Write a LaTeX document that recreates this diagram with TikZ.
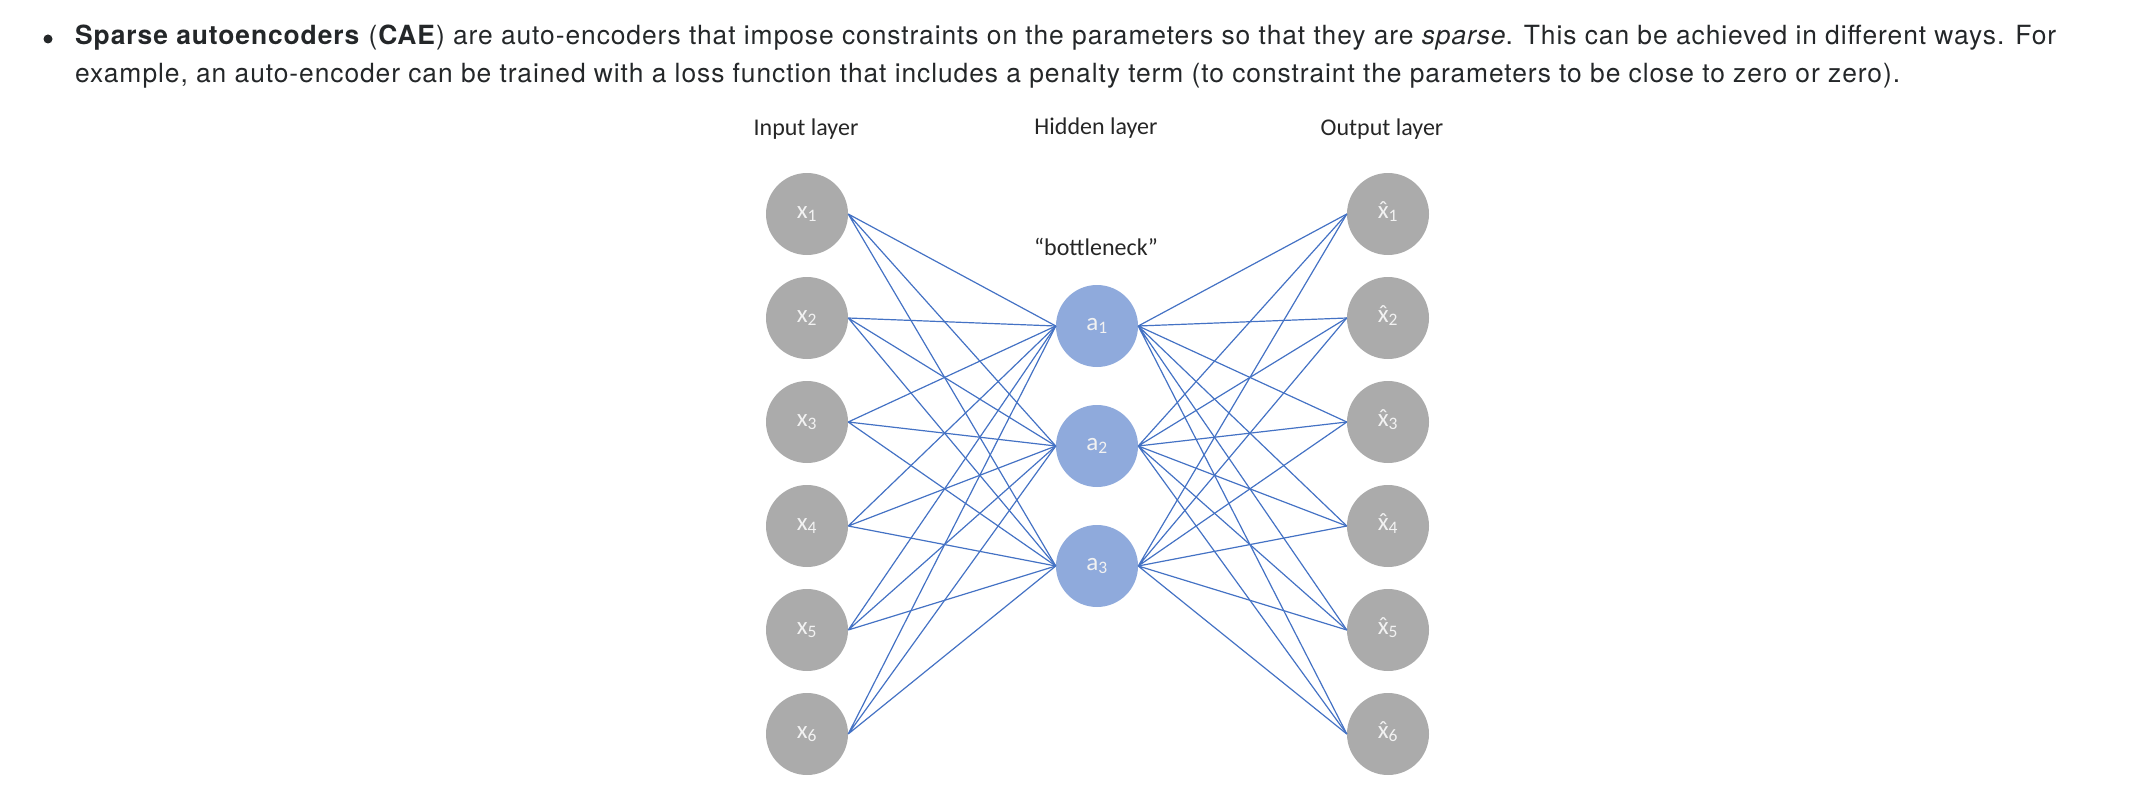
\documentclass[tikz,border=0pt]{standalone}
\usepackage{fontspec}
\setmainfont[LetterSpace=3.5]{TeX Gyre Heros}
\newfontfamily\calibri{Carlito}

\definecolor{nodegray}{HTML}{ABABAB}
\definecolor{hidblue}{HTML}{8FAADC}
\definecolor{wireblue}{HTML}{4472C4}
\definecolor{inktext}{HTML}{242729}

\newcommand{\xhat}{\ooalign{x\cr\hidewidth\char"02C6\hidewidth\cr}}

\tikzset{
  unit/.style={circle, fill=nodegray, minimum size=82pt, inner sep=0pt,
    text=white!95!black, font=\calibri\fontsize{25}{25}\selectfont},
  hidunit/.style={unit, fill=hidblue},
  wire/.style={draw=wireblue, line width=1.2pt},
  layertitle/.style={anchor=base, inner sep=0pt, text=black!85,
    font=\calibri\fontsize{24}{24}\selectfont},
  paraline/.style={anchor=base west, inner sep=0pt, text=inktext,
    font=\fontsize{26.4}{30}\selectfont},
}

\begin{document}
\begin{tikzpicture}[x=1pt, y=-1pt]
                \useasboundingbox (0, 0) rectangle (2142, 800);
                % text above the picture
                \node[circle, fill=inktext, inner sep=0pt, minimum size=9pt] (bullet) at (48, 39) {};
                \node[paraline] (line1) at (75, 45) {\textbf{Sparse autoencoders} (\textbf{CAE}) are auto-encoders that impose constraints on the parameters so that they are \textit{sparse}. This can be achieved in different ways. For};
                \node[paraline] (line2) at (75, 82) {example, an auto-encoder can be trained with a loss function that includes a penalty term (to constraint the parameters to be close to zero or zero).};
                % layer titles
                \node[layertitle] (intitle) at (806, 135) {Input layer};
                \node[layertitle] (hidtitle) at (1096, 134) {Hidden layer};
                \node[layertitle] (outtitle) at (1382, 135) {Output layer};
                \node[layertitle] (neck) at (1096, 255) {“bottleneck”};
                % input layer
                \node[unit] (x1) at (807, 214) {x\textsubscript{1}};
                \node[unit] (x2) at (807, 318) {x\textsubscript{2}};
                \node[unit] (x3) at (807, 422) {x\textsubscript{3}};
                \node[unit] (x4) at (807, 526) {x\textsubscript{4}};
                \node[unit] (x5) at (807, 630) {x\textsubscript{5}};
                \node[unit] (x6) at (807, 734) {x\textsubscript{6}};
                % hidden layer
                \node[hidunit] (a1) at (1097, 326) {a\textsubscript{1}};
                \node[hidunit] (a2) at (1097, 446) {a\textsubscript{2}};
                \node[hidunit] (a3) at (1097, 566) {a\textsubscript{3}};
                % output layer
                \node[unit] (y1) at (1388, 214) {\xhat\textsubscript{1}};
                \node[unit] (y2) at (1388, 318) {\xhat\textsubscript{2}};
                \node[unit] (y3) at (1388, 422) {\xhat\textsubscript{3}};
                \node[unit] (y4) at (1388, 526) {\xhat\textsubscript{4}};
                \node[unit] (y5) at (1388, 630) {\xhat\textsubscript{5}};
                \node[unit] (y6) at (1388, 734) {\xhat\textsubscript{6}};
                % encoder weights
                \draw[wire] (x1.east) -- (a1.west) (x1.east) -- (a2.west) (x1.east) -- (a3.west);
                \draw[wire] (x2.east) -- (a1.west) (x2.east) -- (a2.west) (x2.east) -- (a3.west);
                \draw[wire] (x3.east) -- (a1.west) (x3.east) -- (a2.west) (x3.east) -- (a3.west);
                \draw[wire] (x4.east) -- (a1.west) (x4.east) -- (a2.west) (x4.east) -- (a3.west);
                \draw[wire] (x5.east) -- (a1.west) (x5.east) -- (a2.west) (x5.east) -- (a3.west);
                \draw[wire] (x6.east) -- (a1.west) (x6.east) -- (a2.west) (x6.east) -- (a3.west);
                % decoder weights
                \draw[wire] (a1.east) -- (y1.west) (a1.east) -- (y2.west) (a1.east) -- (y3.west);
                \draw[wire] (a1.east) -- (y4.west) (a1.east) -- (y5.west) (a1.east) -- (y6.west);
                \draw[wire] (a2.east) -- (y1.west) (a2.east) -- (y2.west) (a2.east) -- (y3.west);
                \draw[wire] (a2.east) -- (y4.west) (a2.east) -- (y5.west) (a2.east) -- (y6.west);
                \draw[wire] (a3.east) -- (y1.west) (a3.east) -- (y2.west) (a3.east) -- (y3.west);
                \draw[wire] (a3.east) -- (y4.west) (a3.east) -- (y5.west) (a3.east) -- (y6.west);
            \end{tikzpicture}
\end{document}
